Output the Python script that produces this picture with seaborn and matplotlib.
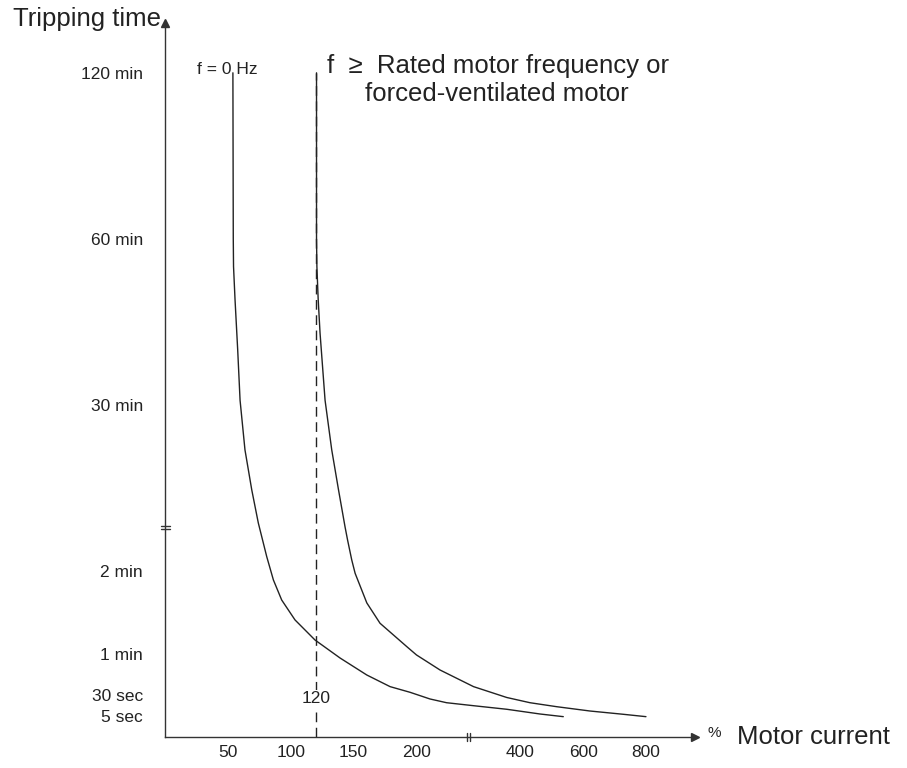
import matplotlib
matplotlib.use("Agg")
import matplotlib.pyplot as plt
from matplotlib.lines import Line2D
import numpy as np
import pandas as pd
import seaborn as sns

# tick values and labels
current_ticks = [50, 100, 150, 200, 400, 600, 800]
time_ticks_s = [5, 30, 60, 120, 1800, 3600, 7200]
time_tick_labels = ["5 sec", "30 sec", "1 min", "2 min", "30 min", "60 min", "120 min"]

# f = 0 Hz curve (motor current %, tripping time s)
curve_0hz_current = [54, 54.3, 54.5, 55.7, 57.8, 59.7, 63.6, 69, 74.2, 80.9, 86.2,
                     92.8, 103.4, 119.3, 139.2, 160.5, 179, 194.9, 226, 258, 310,
                     374, 463, 537]
curve_0hz_time = [7200, 3600, 3300, 2940, 2400, 1850, 1345, 940, 606, 265, 113.5,
                  99, 84.6, 70.1, 57.1, 44.8, 36.4, 32.3, 25.8, 21.3, 17.7,
                  13.4, 7.7, 4.9]

# f >= rated frequency curve
curve_rated_current = [120.5, 120.5, 120.8, 121.8, 123.3, 127.3, 132.6, 138, 143.2,
                       145.2, 148.5, 151.2, 160.5, 171, 192.3, 200, 245.5, 310, 374,
                       431, 516, 622, 728, 800]
curve_rated_time = [7200, 3600, 3300, 2950, 2580, 1850, 1345, 940, 565,
                    433, 232, 118.3, 96.9, 82.2, 65.3, 59.3, 48.4, 36.4, 27.6,
                    21.3, 16.5, 11.3, 7.35, 4.9]

rated_current_pct = 120

# broken (piecewise) axis scales, like the datasheet drawing
x_knot_vals = [0, 50, 100, 150, 200, 400, 600, 800, 1200]
x_knot_pos = [0, 1, 2, 3, 4, 5.65, 6.65, 7.65, 9.65]
y_knot_vals = [0, 5, 30, 60, 120, 1800, 3600, 7200, 10800]
y_knot_pos = [0, 0.25, 0.5, 1, 2, 4, 6, 8, 10]


def x_fwd(v):
    return np.interp(v, x_knot_vals, x_knot_pos)


def x_inv(p):
    return np.interp(p, x_knot_pos, x_knot_vals)


def y_fwd(v):
    return np.interp(v, y_knot_vals, y_knot_pos)


def y_inv(p):
    return np.interp(p, y_knot_pos, y_knot_vals)


df = pd.concat([
    pd.DataFrame({"current": curve_0hz_current, "time": curve_0hz_time, "curve": "f0"}),
    pd.DataFrame({"current": curve_rated_current, "time": curve_rated_time, "curve": "rated"}),
])

sns.set_theme(style="white")
plt.rcParams["font.family"] = ["Liberation Sans", "DejaVu Sans"]

ink = "#222222"
W, H = 907, 768
fig = plt.figure(figsize=(W / 100, H / 100), dpi=100)
ax = fig.add_axes([165 / W, 31 / H, 530 / W, 714 / H])

sns.lineplot(data=df, x="current", y="time", units="curve", estimator=None,
             sort=False, color=ink, lw=1.0, ax=ax)
ax.plot([rated_current_pct, rated_current_pct], [0, 7200], color=ink, lw=1.0,
        ls=(0, (7, 4)))

ax.set_xscale("function", functions=(x_fwd, x_inv))
ax.set_yscale("function", functions=(y_fwd, y_inv))
ax.set_xlim(0, 956)
ax.set_ylim(0, 8280)

ax.set_xticks(current_ticks)
ax.set_xticklabels([str(c) for c in current_ticks])
ax.set_yticks(time_ticks_s)
ax.set_yticklabels(time_tick_labels)
ax.minorticks_off()
ax.tick_params(axis="both", direction="inout", length=6, width=1, color="#333333",
               labelsize=12.5, labelcolor=ink)
ax.tick_params(axis="x", pad=2.5)
ax.tick_params(axis="y", pad=13)
ax.set_xlabel("")
ax.set_ylabel("")
ax.grid(False)
for side in ("top", "right"):
    ax.spines[side].set_visible(False)
for side in ("left", "bottom"):
    ax.spines[side].set_color("#333333")
    ax.spines[side].set_linewidth(1.0)

# axis arrows
ax.plot(1, 0, marker=">", ms=6, color="#333333", transform=ax.transAxes, clip_on=False)
ax.plot(0, 1, marker="^", ms=6, color="#333333", transform=ax.transAxes, clip_on=False)

ax.text(rated_current_pct, 26, "120", ha="center", va="center", fontsize=12.5,
        color=ink, bbox=dict(facecolor="white", edgecolor="none", pad=1))

# axis break marks
fig.canvas.draw()
bx, by = ax.transData.transform((300, 0))
for d in (-1.7, 1.7):
    fig.add_artist(Line2D([bx + d, bx + d], [by - 4, by + 4], transform=None,
                          color="#333333", lw=1))
bx, by = ax.transData.transform((0, 560))
for d in (-1.7, 1.7):
    fig.add_artist(Line2D([bx - 4.5, bx + 4.5], [by + d, by + d], transform=None,
                          color="#333333", lw=1))

# annotations
fig.text(13 / W, 1 - 19 / H, "Tripping time", fontsize=18.5, color=ink,
         ha="left", va="center")
fig.text(737 / W, 1 - 737 / H, "Motor current", fontsize=18.5, color=ink,
         ha="left", va="center")
fig.text(708 / W, 1 - 733 / H, "%", fontsize=11, color=ink, ha="left", va="center")
fig.text(197 / W, 1 - 70 / H, "f = 0 Hz", fontsize=12.5, color=ink,
         ha="left", va="center")
fig.text(327 / W, 1 - 66 / H, "f  \u2265  Rated motor frequency or", fontsize=18.5,
         color=ink, ha="left", va="center")
fig.text(365 / W, 1 - 94 / H, "forced-ventilated motor", fontsize=18.5,
         color=ink, ha="left", va="center")

fig.savefig("out.png", dpi=100)
